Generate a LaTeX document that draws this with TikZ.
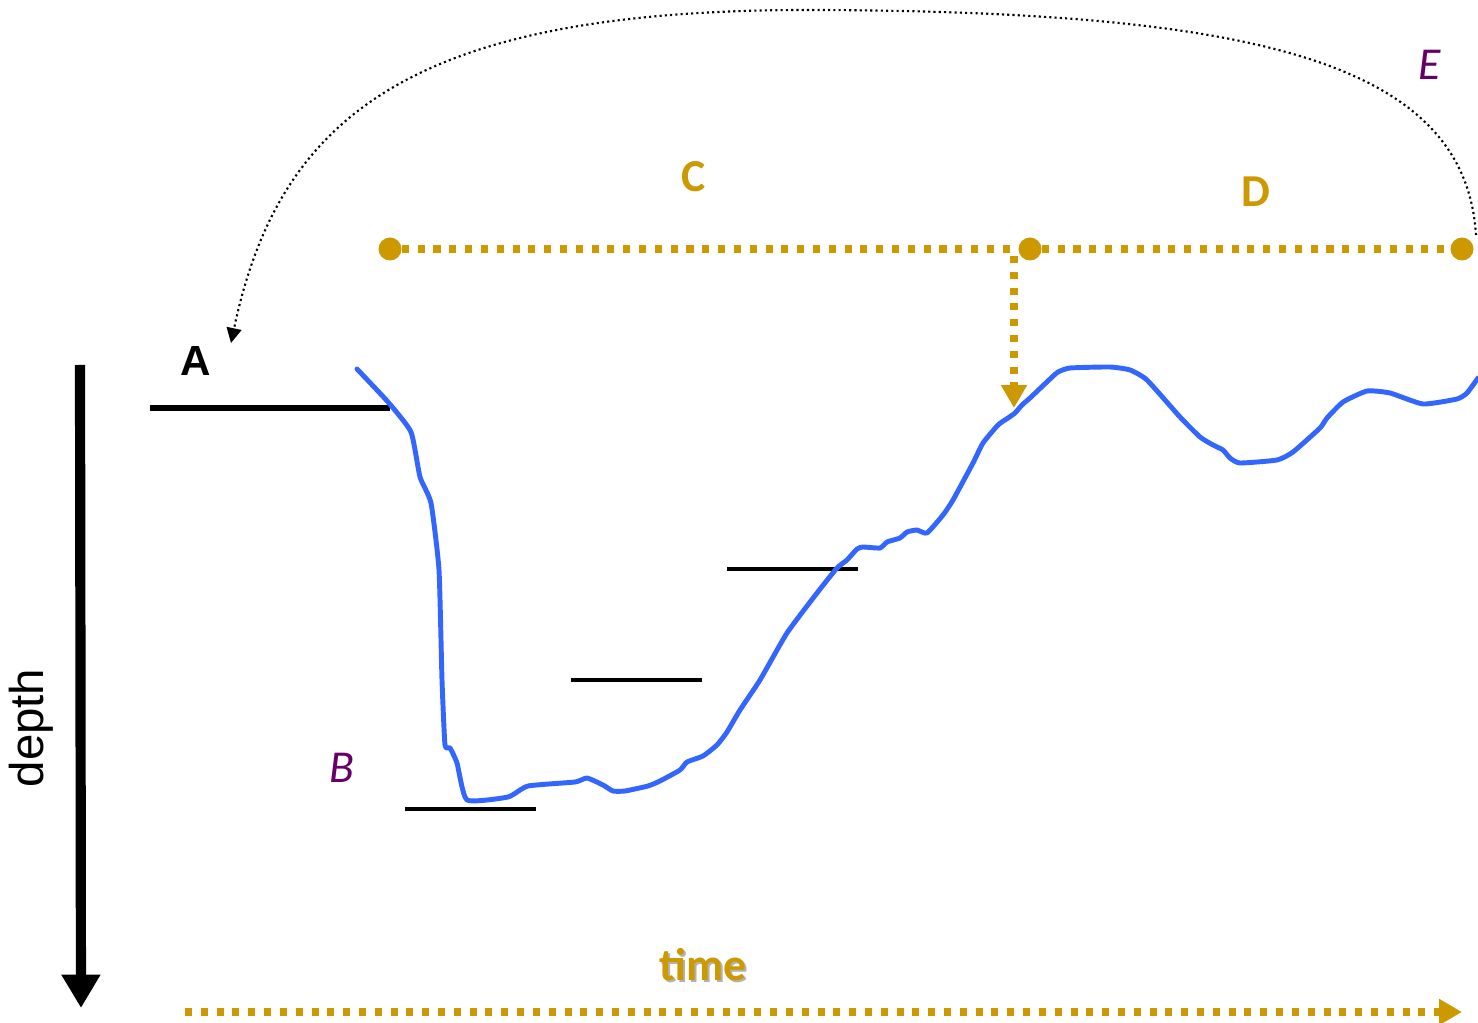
\documentclass[tikz,border=0pt]{standalone}
\usepackage{fontspec}
\setmainfont{Carlito}
\newfontfamily\arialfont{Liberation Sans}
\usetikzlibrary{arrows.meta}

\definecolor{gold}{RGB}{204,153,0}
\definecolor{plum}{RGB}{102,0,102}
\definecolor{diveblue}{RGB}{51,102,255}

\tikzset{
  golddots/.style={gold, line width=4pt, dash pattern=on 4pt off 5pt},
  goldtip/.style={-{Triangle[length=13pt,width=14pt]}},
  golddot/.style={circle, fill=gold, inner sep=0pt, minimum size=0.46cm},
  letter/.style={font=\fontsize{26}{30}\selectfont},
  level/.style={line width=2pt},
}

\begin{document}
\begin{tikzpicture}[x=0.02cm, y=-0.02cm]
  \useasboundingbox (0,0) rectangle (1478,1023);

  % Depth axis
  \coordinate (d0) at (80,365);
  \coordinate (d1) at (81,1008);
  \draw[line width=5.8pt, -{Triangle[length=19pt,width=21pt]}] (d0) -- (d1);
  \node[rotate=90, font=\arialfont\fontsize{27}{31}\selectfont] (depth) at (31,728) {depth};

  % Time axis
  \coordinate (t0) at (185,1012);
  \coordinate (t1) at (1462,1012);
  \draw[golddots, goldtip] (t0) -- (t1);
  \node[letter, font=\bfseries\fontsize{26}{30}\selectfont, text=black!30] (timeshadow) at (705,967) {time};
  \node[letter, font=\bfseries\fontsize{26}{30}\selectfont, text=gold] (time) at (703,965) {time};

  % Surface level A
  \coordinate (a0) at (150,408);
  \coordinate (a1) at (390,408);
  \draw[line width=3.4pt] (a0) -- (a1);
  \node[font=\arialfont\bfseries\fontsize{24}{28}\selectfont] (A) at (196,361) {A};

  % Stop levels
  \draw[level] (405,809) -- (536,809);
  \draw[level] (571,680) -- (702,680);
  \draw[level] (727,569) -- (858,569);
  \node[letter, text=plum, font=\itshape\fontsize{26}{30}\selectfont] (B) at (342,768) {B};

  % Dive profile
  \draw[diveblue, line width=2.8pt, line join=round, line cap=round]
    plot[smooth, tension=0.3] coordinates {
      (357,369) (388,402) (411,432) (420,477) (431,503) (439,570) (442,680)
      (445,745) (450,748) (457,763) (467,800) (508,797) (528,786) (575,782)
      (587,778) (603,785) (613,791) (625,791) (648,786) (660,781) (680,770)
      (687,762) (703,756) (717,745) (727,732) (740,710) (760,680) (787,633)
      (817,593) (837,568) (847,560) (857,549) (863,547) (880,548) (887,542)
      (900,538) (907,532) (917,530) (927,533) (943,515) (953,500) (973,463)
      (983,443) (998,425) (1008,418) (1015,413) (1022,405) (1030,398)
      (1050,379) (1058,372) (1070,368) (1110,367) (1130,370) (1147,380)
      (1180,417) (1200,437) (1213,445) (1223,450) (1230,458) (1240,463)
      (1277,460) (1293,452) (1320,428) (1327,418) (1343,402) (1367,391)
      (1390,393) (1423,404) (1457,399) (1467,393) (1478,378)};

  % Intervals C and D
  \node[golddot] (c0) at (390,249) {};
  \node[golddot] (c1) at (1030,249) {};
  \node[golddot] (c2) at (1462,249) {};
  \draw[golddots] (c0) -- (c1) -- (c2);
  \node[letter, text=gold, font=\bfseries\fontsize{26}{30}\selectfont] (C) at (694,177) {C};
  \node[letter, text=gold, font=\bfseries\fontsize{26}{30}\selectfont] (D) at (1256,192) {D};

  % Drop to profile
  \coordinate (p0) at (1014,256);
  \coordinate (p1) at (1014,408);
  \draw[golddots, goldtip] (p0) -- (p1);

  % Repeat loop E
  \coordinate (e0) at (1476,235);
  \coordinate (etop) at (820,10);
  \coordinate (e1) at (231,343);
  \draw[line width=1.2pt, dash pattern=on 1.2pt off 1.8pt, -{Triangle[length=8.5pt,width=8.5pt]}]
    (e0) .. controls (1465,60) and (1250,12) .. (etop)
         .. controls (420,8) and (280,110) .. (e1);
  \node[letter, text=plum, font=\itshape\fontsize{26}{30}\selectfont] (E) at (1430,65) {E};

\end{tikzpicture}
\end{document}
